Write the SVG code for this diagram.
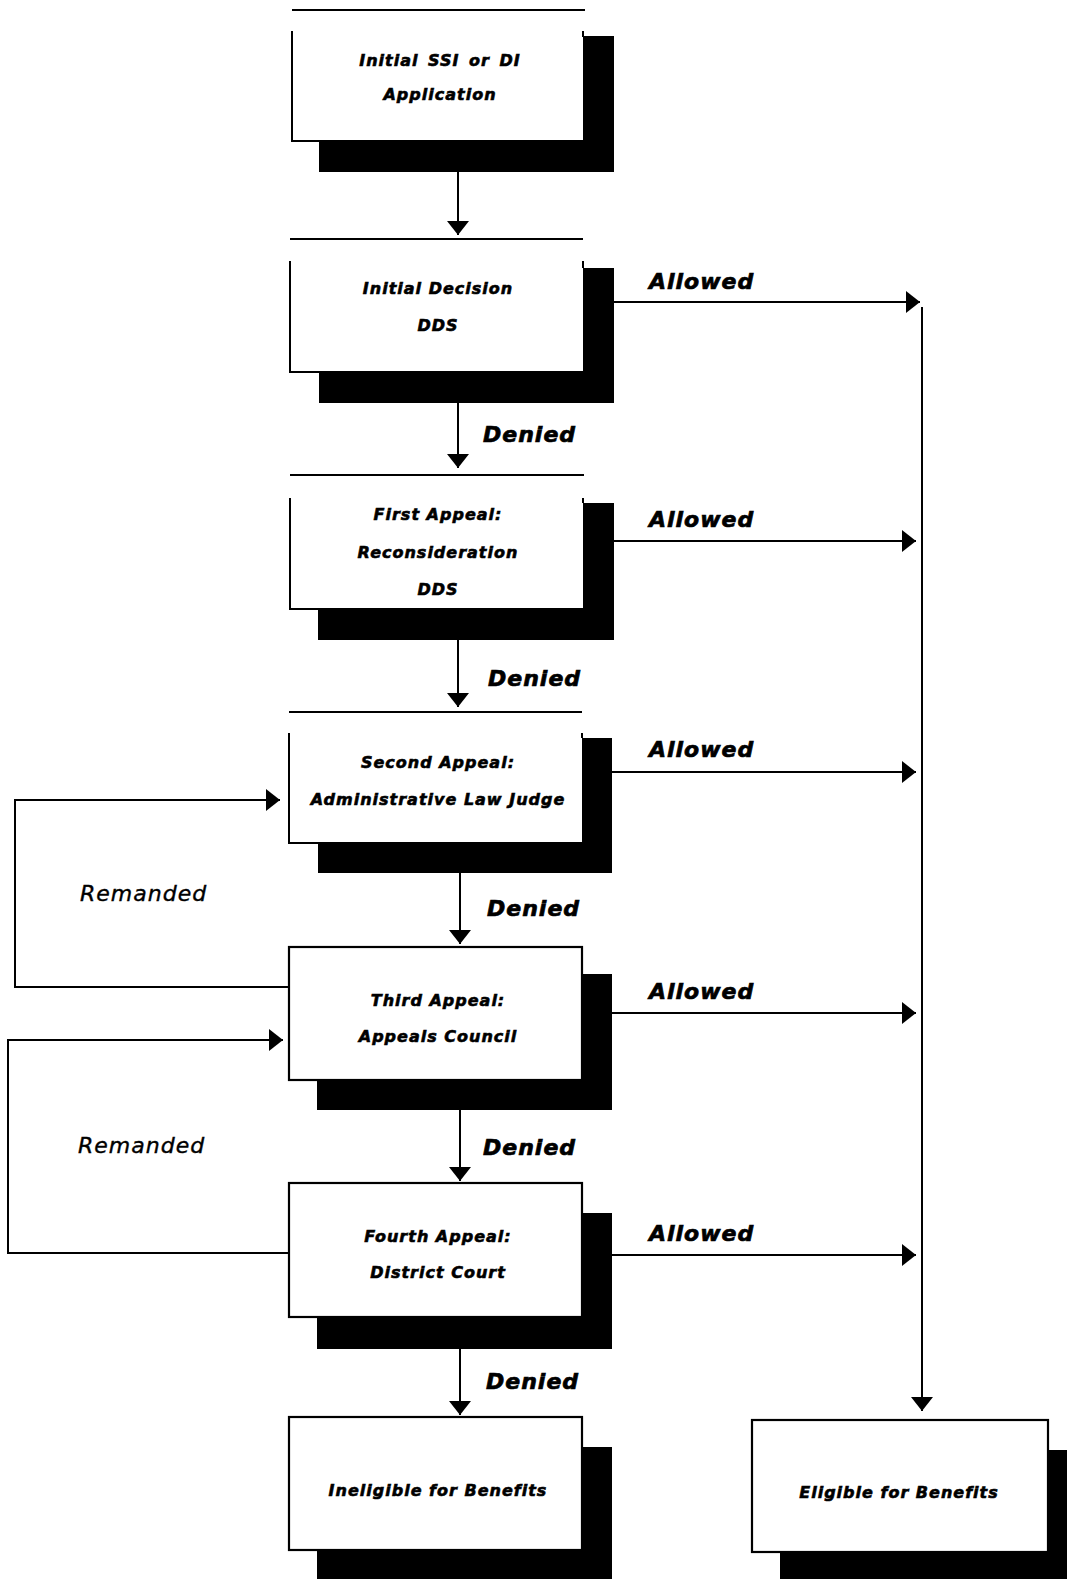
<svg xmlns="http://www.w3.org/2000/svg" width="1067" height="1579" viewBox="0 0 1067 1579">
<style>
.bg{fill:#fff}
.sh{fill:#000}
.box{fill:#fff}
.fbox{fill:#fff;stroke:#000;stroke-width:2.2}
.edge{fill:none;stroke:#000;stroke-width:2}
.conn{fill:none;stroke:#000;stroke-width:2;marker-end:url(#ah)}
.t{font-family:"DejaVu Sans","Liberation Sans",sans-serif;font-weight:bold;font-style:italic;font-size:16px;letter-spacing:1px;text-anchor:middle;fill:#000;stroke:#000;stroke-width:0.6}
.lbl{font-family:"DejaVu Sans","Liberation Sans",sans-serif;font-weight:bold;font-style:italic;font-size:22px;letter-spacing:1px;fill:#000;stroke:#000;stroke-width:0.7}
.rem{font-family:"DejaVu Sans","Liberation Sans",sans-serif;font-style:italic;font-size:22px;letter-spacing:1px;fill:#000;stroke:#000;stroke-width:0.4}
</style>
<defs>
<marker id="ah" markerUnits="userSpaceOnUse" markerWidth="15" markerHeight="22" refX="14" refY="11" orient="auto">
<path d="M0,0 L14,11 L0,22 Z" fill="#000"/>
</marker>
</defs>
<rect class="bg" x="0" y="0" width="1067" height="1579"/>

<g id="n1">
<rect class="sh" x="319" y="36" width="295" height="136"/>
<rect class="box" x="292" y="31" width="291" height="110"/>
<path class="edge" d="M292,31 V141 H583 M583,31 V37 M292,10 H585"/>
<text class="t" x="440" y="66" word-spacing="3">Initial SSI or DI</text>
<text class="t" x="440" y="100">Application</text>
</g>

<g id="n2">
<rect class="sh" x="319" y="268" width="295" height="135"/>
<rect class="box" x="290" y="261" width="293" height="111"/>
<path class="edge" d="M290,261 V372 H583 M583,261 V268 M290,239 H583"/>
<text class="t" x="438" y="294">Initial Decision</text>
<text class="t" x="438" y="331">DDS</text>
</g>

<g id="n3">
<rect class="sh" x="318" y="503" width="296" height="137"/>
<rect class="box" x="290" y="498" width="293" height="111"/>
<path class="edge" d="M290,498 V609 H583 M583,498 V503 M290,475 H584"/>
<text class="t" x="438" y="520">First Appeal:</text>
<text class="t" x="438" y="558">Reconsideration</text>
<text class="t" x="438" y="595">DDS</text>
</g>

<g id="n4">
<rect class="sh" x="318" y="738" width="294" height="135"/>
<rect class="box" x="289" y="733" width="293" height="110"/>
<path class="edge" d="M289,733 V843 H582 M582,733 V738 M289,712 H582"/>
<text class="t" x="438" y="768">Second Appeal:</text>
<text class="t" x="438" y="805">Administrative Law Judge</text>
</g>

<g id="n5">
<rect class="sh" x="317" y="974" width="295" height="136"/>
<rect class="fbox" x="289" y="947" width="293" height="133"/>
<text class="t" x="438" y="1006">Third Appeal:</text>
<text class="t" x="438" y="1042">Appeals Council</text>
</g>

<g id="n6">
<rect class="sh" x="317" y="1213" width="295" height="136"/>
<rect class="fbox" x="289" y="1183" width="293" height="134"/>
<text class="t" x="438" y="1242">Fourth Appeal:</text>
<text class="t" x="438" y="1278">District Court</text>
</g>

<g id="n7">
<rect class="sh" x="317" y="1447" width="295" height="132"/>
<rect class="fbox" x="289" y="1417" width="293" height="133"/>
<text class="t" x="438" y="1496">Ineligible for Benefits</text>
</g>

<g id="n8">
<rect class="sh" x="780" y="1450" width="287" height="129"/>
<rect class="fbox" x="752" y="1420" width="296" height="132"/>
<text class="t" x="899" y="1498">Eligible for Benefits</text>
</g>

<g id="connectors">
<path class="conn" d="M458,172 V235"/>
<path class="conn" d="M458,403 V468"/>
<path class="conn" d="M458,640 V707"/>
<path class="conn" d="M460,873 V944"/>
<path class="conn" d="M460,1110 V1181"/>
<path class="conn" d="M460,1349 V1415"/>
<path class="conn" d="M614,302 H920"/>
<path class="conn" d="M614,541 H916"/>
<path class="conn" d="M612,772 H916"/>
<path class="conn" d="M612,1013 H916"/>
<path class="conn" d="M612,1255 H916"/>
<path class="conn" d="M922,307 V1411"/>
<path class="conn" d="M289,987 H15 V800 H280"/>
<path class="conn" d="M289,1253 H8 V1040 H283"/>
<text class="lbl" x="649" y="289">Allowed</text>
<text class="lbl" x="649" y="527">Allowed</text>
<text class="lbl" x="649" y="757">Allowed</text>
<text class="lbl" x="649" y="999">Allowed</text>
<text class="lbl" x="649" y="1241">Allowed</text>
<text class="lbl" x="483" y="442">Denied</text>
<text class="lbl" x="488" y="686">Denied</text>
<text class="lbl" x="487" y="916">Denied</text>
<text class="lbl" x="483" y="1155">Denied</text>
<text class="lbl" x="486" y="1389">Denied</text>
<text class="rem" x="80" y="901">Remanded</text>
<text class="rem" x="78" y="1153">Remanded</text>
</g>
</svg>
